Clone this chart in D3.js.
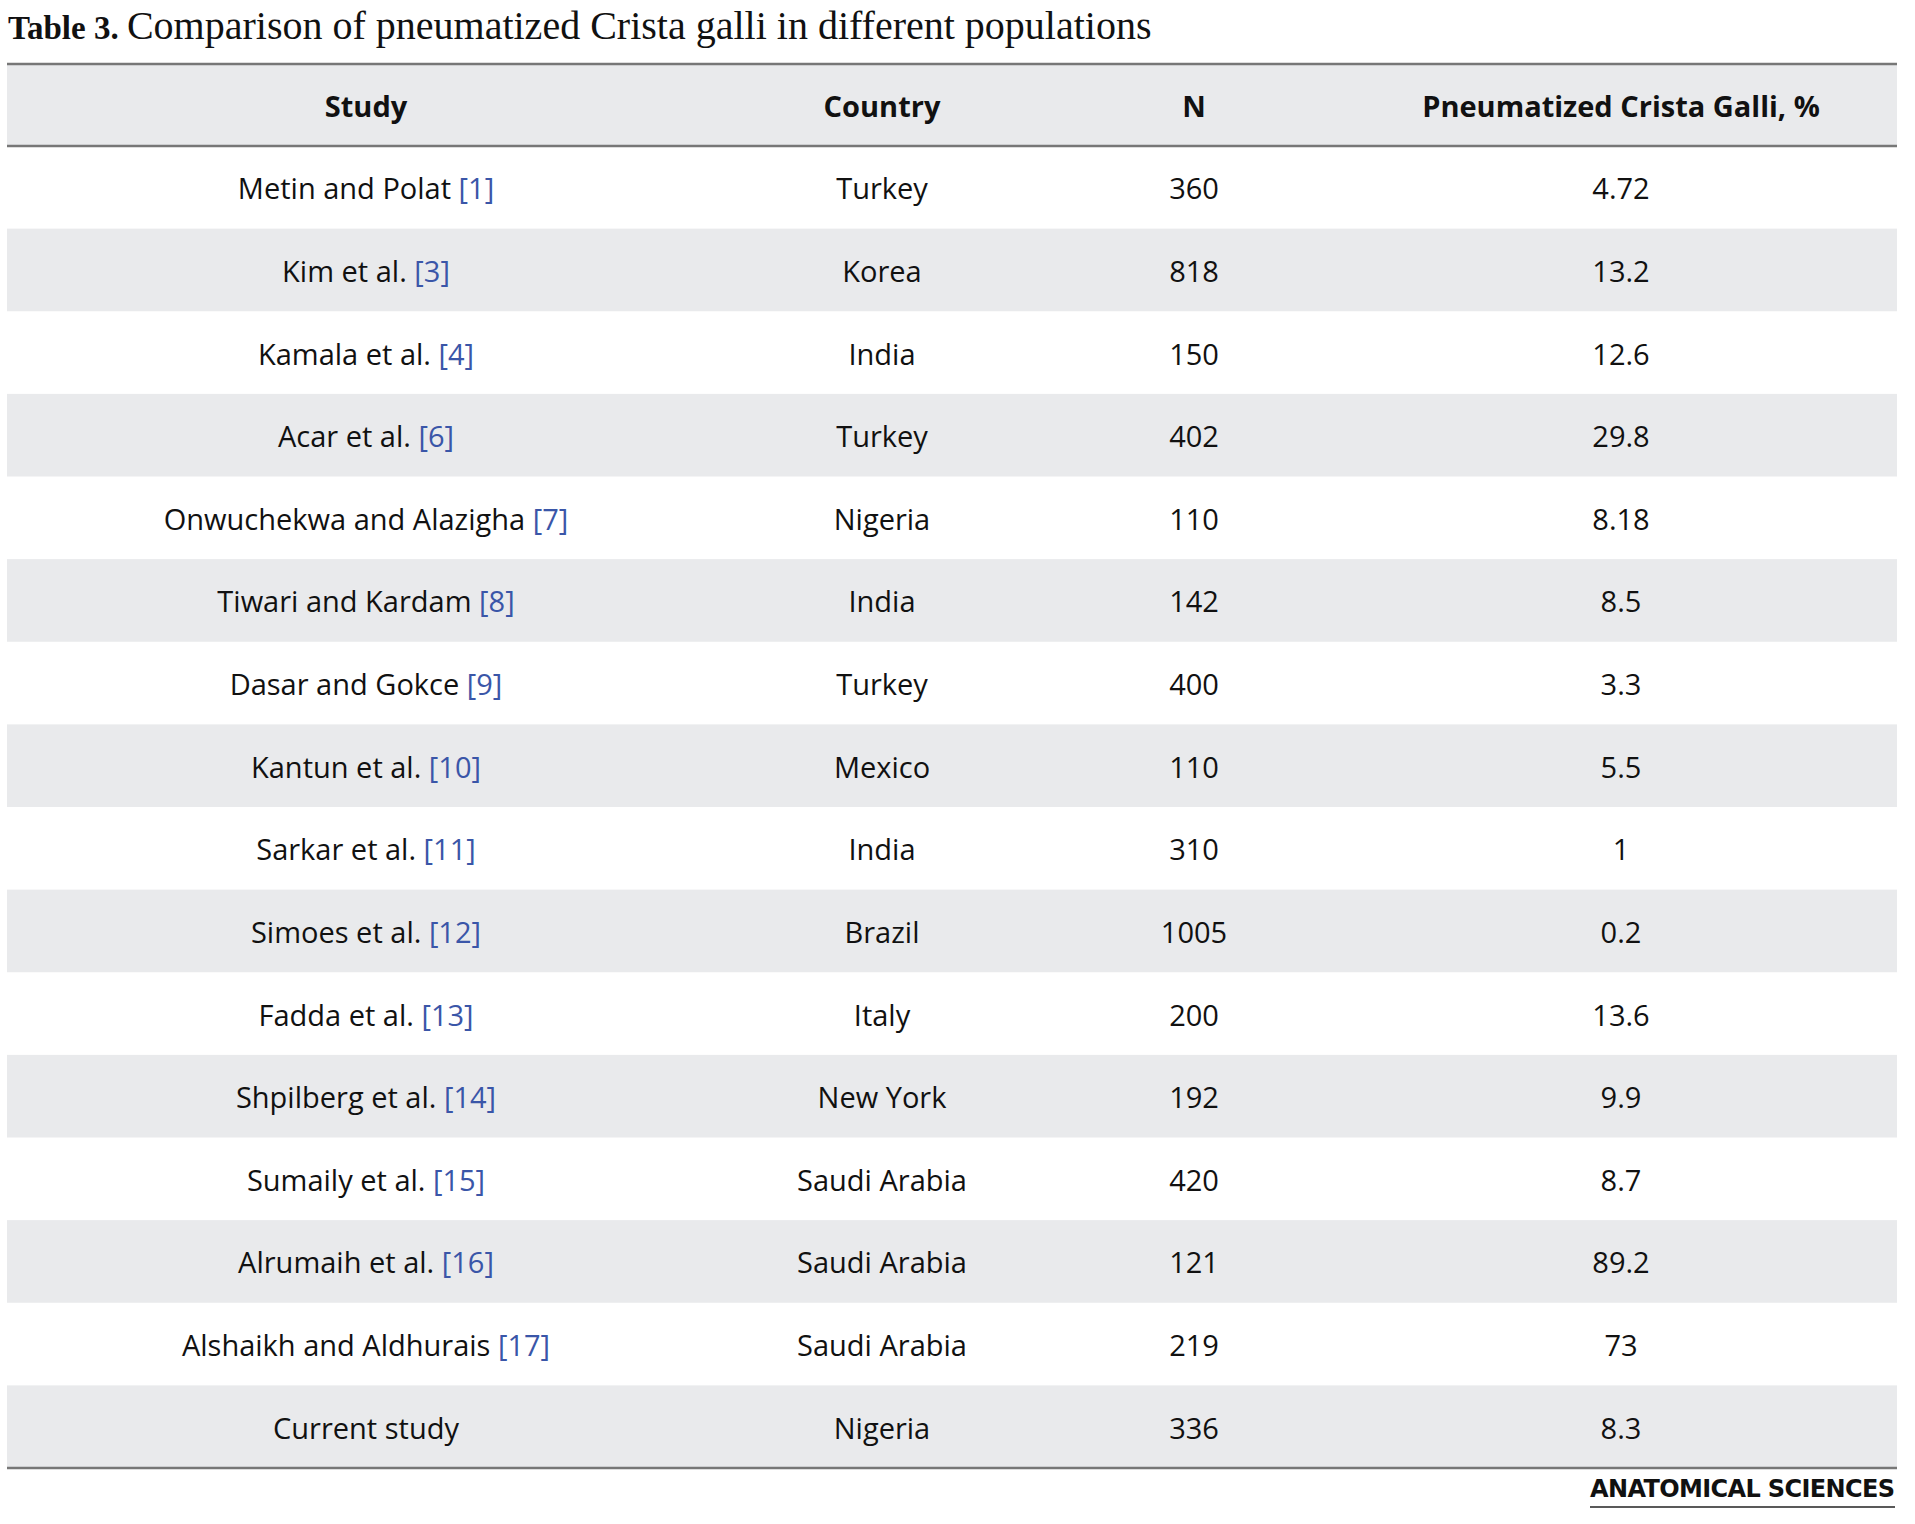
<!DOCTYPE html><html><head><meta charset="utf-8"><script src="https://cdn.jsdelivr.net/npm/d3@7"></script>
<style>body{margin:0;background:#fff}</style></head><body><svg id="c" width="1915" height="1524"></svg>
<script>
const columns=["Study","Country","N","Pneumatized Crista Galli, %"];
const studies=["Metin and Polat","Kim et al.","Kamala et al.","Acar et al.","Onwuchekwa and Alazigha","Tiwari and Kardam","Dasar and Gokce","Kantun et al.","Sarkar et al.","Simoes et al.","Fadda et al.","Shpilberg et al.","Sumaily et al.","Alrumaih et al.","Alshaikh and Aldhurais","Current study"];
const refs=["[1]","[3]","[4]","[6]","[7]","[8]","[9]","[10]","[11]","[12]","[13]","[14]","[15]","[16]","[17]",""];
const countries=["Turkey","Korea","India","Turkey","Nigeria","India","Turkey","Mexico","India","Brazil","Italy","New York","Saudi Arabia","Saudi Arabia","Saudi Arabia","Nigeria"];
const nValues=["360","818","150","402","110","142","400","110","310","1005","200","192","420","121","219","336"];
const pctValues=["4.72","13.2","12.6","29.8","8.18","8.5","3.3","5.5","1","0.2","13.6","9.9","8.7","89.2","73","8.3"];
const svg=d3.select("#c");
const L=7,R=1897,top0=64,hdrB=146,bot=1468;
const y=d3.scaleBand().domain(d3.range(16)).range([hdrB,bot]);
const xc=[366,882,1194,1621];
const font="'Open Sans',sans-serif";
const fs=29;
const t=svg.append("text").attr("x",8).attr("y",39).attr("font-family","'Liberation Serif',serif").attr("font-size",40).attr("fill","#111");
t.append("tspan").attr("font-weight","bold").attr("font-size",33).text("Table 3. ");
t.append("tspan").text("Comparison of pneumatized Crista galli in different populations");
svg.append("rect").attr("x",L).attr("y",top0).attr("width",R-L).attr("height",hdrB-top0).attr("fill","#e9eaec");
svg.selectAll("rect.r").data(d3.range(16).filter(i=>i%2==1)).join("rect").attr("x",L).attr("y",i=>y(i)).attr("width",R-L).attr("height",y.bandwidth()).attr("fill","#e9eaec");
[top0,hdrB,bot].forEach(v=>svg.append("line").attr("x1",L).attr("x2",R).attr("y1",v).attr("y2",v).attr("stroke","#777").attr("stroke-width",2.5));
svg.selectAll("text.h").data(columns).join("text").attr("x",(d,i)=>xc[i]).attr("y",(top0+hdrB)/2+12).attr("text-anchor","middle").attr("font-family",font).attr("font-weight","bold").attr("font-size",fs).attr("fill","#111").text(d=>d);
const cols=[null,countries,nValues,pctValues];
d3.range(16).forEach(i=>{
 const cy=y(i)+y.bandwidth()/2+12;
 const s=svg.append("text").attr("x",xc[0]).attr("y",cy).attr("text-anchor","middle").attr("font-family",font).attr("font-size",fs).attr("fill","#111");
 s.append("tspan").text(studies[i]+(refs[i]?" ":""));
 if(refs[i]) s.append("tspan").attr("fill","#3a56a8").text(refs[i]);
 for(let c=1;c<4;c++) svg.append("text").attr("x",xc[c]).attr("y",cy).attr("text-anchor","middle").attr("font-family",font).attr("font-size",fs).attr("fill","#111").text(cols[c][i]);
});
svg.append("text").attr("x",1895).attr("y",1497).attr("text-anchor","end").attr("font-family","'DejaVu Sans',sans-serif").attr("font-weight","bold").attr("font-size",24).attr("textLength",305).attr("fill","#111").text("ANATOMICAL SCIENCES");
svg.append("line").attr("x1",1590).attr("x2",1895).attr("y1",1507).attr("y2",1507).attr("stroke","#222").attr("stroke-width",1.5);
</script></body></html>
